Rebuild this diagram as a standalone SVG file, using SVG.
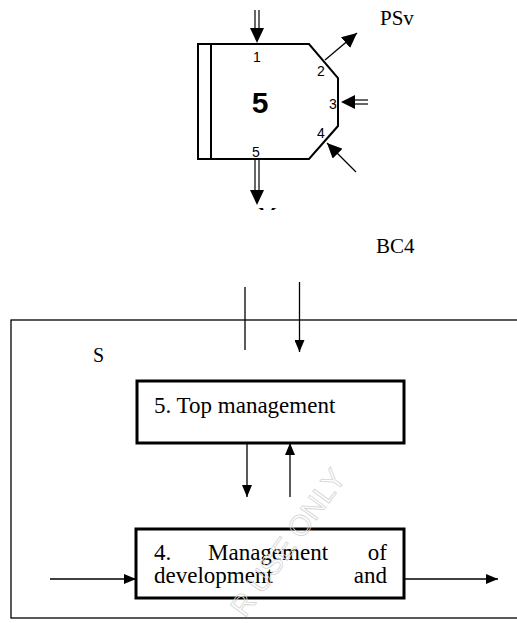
<svg xmlns="http://www.w3.org/2000/svg" width="517" height="623" viewBox="0 0 517 623">
  <style>
    .ln { stroke: #000; fill: none; stroke-width: 1.3; }
    .thin { stroke: #000; fill: none; stroke-width: 1.2; }
    .box { stroke: #000; fill: #fff; stroke-width: 3; }
    .head { fill: #000; stroke: none; }
    .sans { font-family: "Liberation Sans", Arial, sans-serif; fill: #000; }
    .serif { font-family: "Liberation Serif", "Times New Roman", serif; fill: #000; }
    .num { font-size: 14px; text-anchor: middle; }
    .lbl { font-size: 21px; }
    .body { font-size: 23px; }
    .mark { font-family: "Liberation Sans", Arial, sans-serif; font-size: 29px; fill: none; stroke: #d4d4d4; stroke-width: 0.8; }
  </style>
  <defs>
    <marker id="arrow" viewBox="0 0 12 10" refX="12" refY="5" markerWidth="12" markerHeight="10" markerUnits="userSpaceOnUse" orient="auto">
      <path d="M0,0 L12,5 L0,10 Z" class="head"/>
    </marker>
    <marker id="arrowBig" viewBox="0 0 15 14" refX="15" refY="7" markerWidth="15" markerHeight="14" markerUnits="userSpaceOnUse" orient="auto">
      <path d="M0,0 L15,7 L0,14 Z" class="head"/>
    </marker>
    <clipPath id="cutoff">
      <rect x="240" y="200" width="60" height="10"/>
    </clipPath>
  </defs>

  <!-- block symbol with numbered ports -->
  <g id="node-block5">
    <path d="M198,44 H309 L338,78 V126 L309,159 H198 Z" fill="#fff" stroke="#000" stroke-width="2"/>
    <line x1="211" y1="44" x2="211" y2="159" stroke="#000" stroke-width="2"/>
    <text class="sans" x="260" y="113" font-size="30" font-weight="bold" text-anchor="middle">5</text>
    <text class="sans num" x="257" y="62">1</text>
    <text class="sans num" x="321" y="76">2</text>
    <text class="sans num" x="333" y="109">3</text>
    <text class="sans num" x="321" y="138">4</text>
    <text class="sans num" x="256" y="157">5</text>
  </g>

  <g id="label-psv"><text class="serif lbl" x="380" y="25">PSv</text></g>
  <g id="label-bc4"><text class="serif lbl" x="376" y="253">BC4</text></g>
  <g id="label-cut"><text class="serif lbl" x="258" y="222" clip-path="url(#cutoff)">M</text></g>

  <!-- outer system frame -->
  <g id="node-system">
    <rect x="11" y="320" width="520" height="298" class="ln"/>
    <text class="serif" x="93" y="362" font-size="20">S</text>
  </g>

  <g id="node-top">
    <rect x="137" y="381" width="267" height="62" class="box"/>
    <text class="serif body" x="154" y="413">5. Top management</text>
  </g>

  <g id="node-dev">
    <rect x="136" y="529" width="268" height="69" class="box"/>
    <text class="serif body" x="154" y="560">4.</text>
    <text class="serif body" x="208" y="560">Management</text>
    <text class="serif body" x="387" y="560" text-anchor="end">of</text>
    <text class="serif body" x="154" y="583">development</text>
    <text class="serif body" x="387" y="583" text-anchor="end">and</text>
  </g>

  <g id="connectors">
    <!-- double-line flows of the block symbol -->
    <line x1="255" y1="10" x2="255" y2="30" class="thin"/>
    <line x1="259" y1="10" x2="259" y2="30" class="thin"/>
    <path d="M250,28 L264,28 L257,43 Z" class="head"/>

    <line x1="255" y1="160" x2="255" y2="192" class="thin"/>
    <line x1="259" y1="160" x2="259" y2="192" class="thin"/>
    <path d="M250,190 L264,190 L257,205 Z" class="head"/>

    <line x1="368" y1="100" x2="352" y2="100" class="thin"/>
    <line x1="368" y1="104" x2="352" y2="104" class="thin"/>
    <path d="M355,95 L355,109 L341,102 Z" class="head"/>

    <line x1="325" y1="60" x2="357" y2="33" class="ln" stroke-width="1.6" marker-end="url(#arrowBig)"/>
    <line x1="356" y1="172" x2="327" y2="143" class="ln" stroke-width="1.6" marker-end="url(#arrowBig)"/>

    <!-- system flows -->
    <line x1="245" y1="287" x2="245" y2="350" class="ln"/>
    <line x1="299.5" y1="282" x2="299.5" y2="352" class="ln" marker-end="url(#arrow)"/>
    <line x1="247" y1="443" x2="247" y2="497" class="ln" marker-end="url(#arrow)"/>
    <line x1="290" y1="497" x2="290" y2="443" class="ln" marker-end="url(#arrow)"/>
    <line x1="50" y1="579" x2="136" y2="579" class="ln" marker-end="url(#arrow)"/>
    <line x1="404" y1="579" x2="498" y2="579" class="ln" marker-end="url(#arrow)"/>
  </g>

  <!-- faint diagonal watermark over the lower part -->
  <text class="mark" x="347" y="478" text-anchor="end" transform="rotate(-54 347 478)">R USE ONLY</text>
</svg>
